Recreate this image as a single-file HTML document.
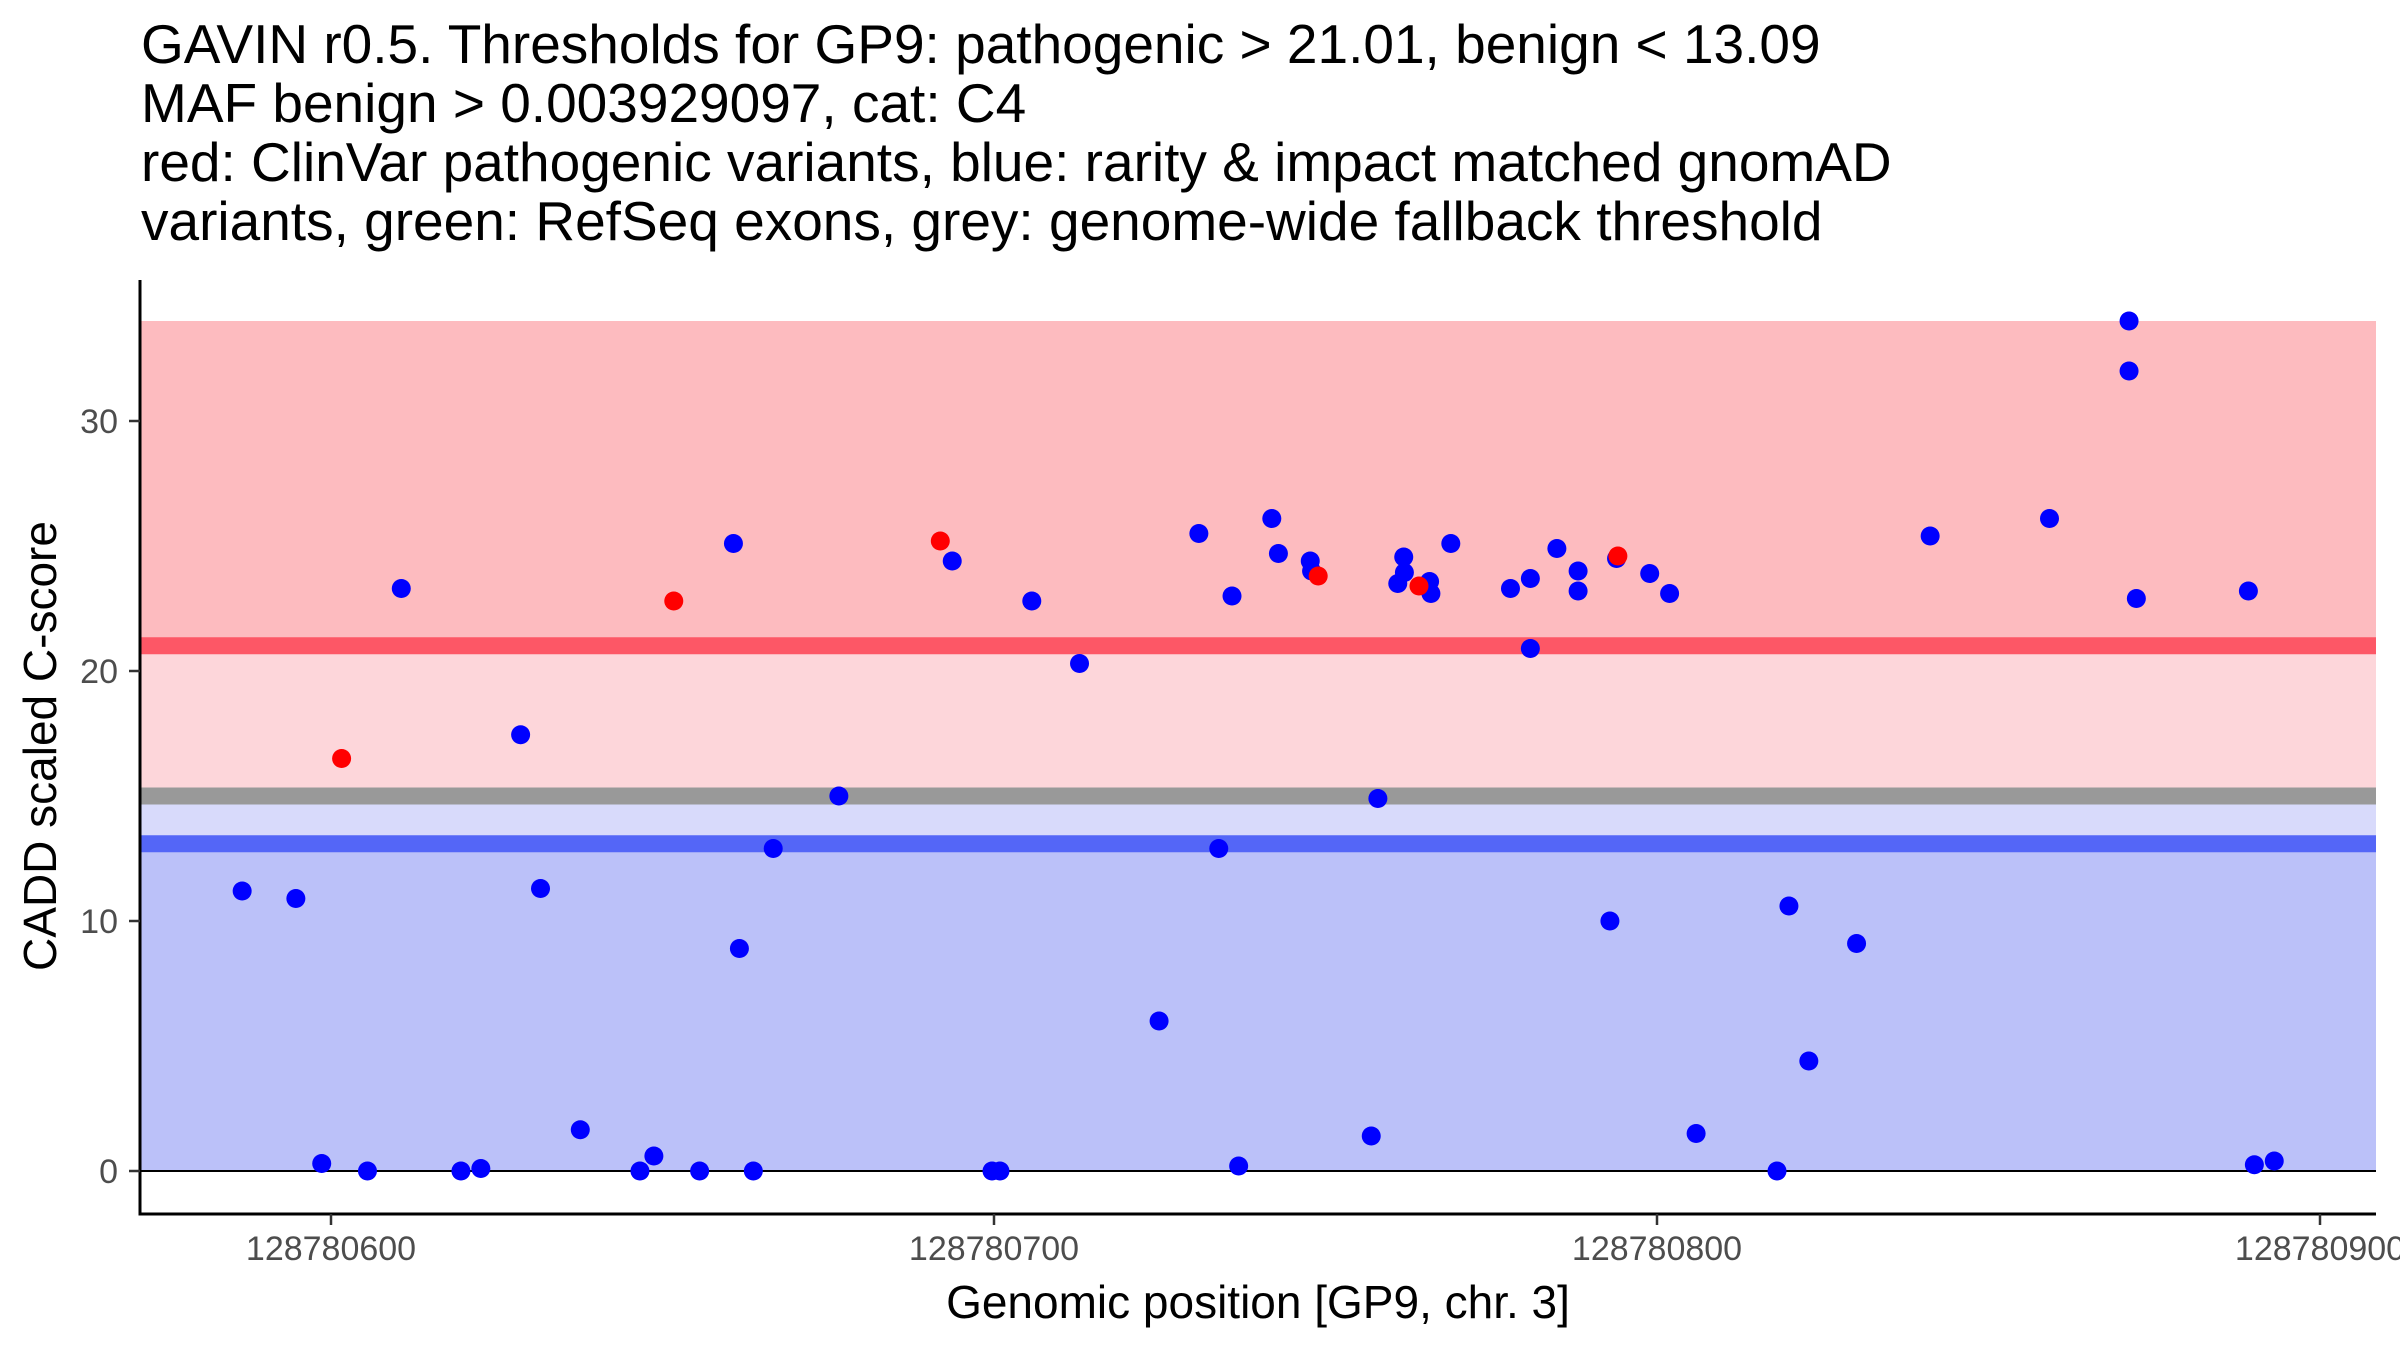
<!DOCTYPE html>
<html><head><meta charset="utf-8"><style>
body{margin:0;background:#fff}
svg{display:block;font-family:"Liberation Sans",Arial,sans-serif}
</style></head><body>
<svg id="chart" width="2400" height="1350" viewBox="0 0 2400 1350" xmlns="http://www.w3.org/2000/svg">
<g font-size="55" fill="#000">
<text x="141" y="63">GAVIN r0.5. Thresholds for GP9: pathogenic &gt; 21.01, benign &lt; 13.09</text>
<text x="141" y="122">MAF benign &gt; 0.003929097, cat: C4</text>
<text x="141" y="181">red: ClinVar pathogenic variants, blue: rarity &amp; impact matched gnomAD</text>
<text x="141" y="240">variants, green: RefSeq exons, grey: genome-wide fallback threshold</text>
</g>
<g id="bands"></g>
<g id="points"></g>
<g id="axes"></g>
<text x="1258" y="1318" font-size="46" text-anchor="middle">Genomic position [GP9, chr. 3]</text>
<text transform="translate(56,746) rotate(-90)" font-size="46" text-anchor="middle">CADD scaled C-score</text>
</svg>
<script>
const pathogenicThreshold = 21.01;
const benignThreshold = 13.09;
const fallbackThreshold = 15;
const bandTop = 34;
const xTicks = [128780600, 128780700, 128780800, 128780900];
const yTicks = [0, 10, 20, 30];
const bluePos = [586.6,594.7,598.6,605.5,610.6,619.6,622.6,628.6,631.6,637.6,646.6,648.7,655.6,660.7,661.6,663.7,666.7,676.6,693.7,699.7,700.9,705.7,712.9,724.9,730.9,733.9,735.9,736.9,741.9,742.9,747.7,747.9,756.9,757.9,760.9,761.8,761.9,765.7,765.9,768.9,777.9,780.9,780.9,784.9,788.1,788.1,792.9,793.9,798.9,801.9,805.9,818.1,819.9,822.9,830.1,841.2,859.2,871.2,871.2,872.3,889.2,890.1,893.1];
const blueVal = [11.2,10.9,0.3,0,23.3,0,0.1,17.45,11.3,1.65,0,0.6,0,25.1,8.9,0,12.9,15.0,24.4,0,0,22.8,20.3,6.0,25.5,12.9,23.0,0.2,26.1,24.7,24.4,24.0,1.4,14.9,23.5,24.56,23.94,23.58,23.1,25.1,23.3,23.7,20.9,24.9,24.0,23.2,10.0,24.5,23.9,23.1,1.5,0.0,10.6,4.4,9.1,25.4,26.1,34.0,32.0,22.9,23.2,0.25,0.4];
const redPos = [601.6,651.7,691.9,748.9,764.1,794.1];
const redVal = [16.5,22.8,25.2,23.8,23.4,24.6];
const POS0 = 128780000;

const X0=140, X1=2376, Y0=280, YB=1214;
function xs(p){return 331+(p-600)*6.63;}
function xsAbs(p){return xs(p-POS0);}
function ys(v){return 1171-v*25.0;}
const NS='http://www.w3.org/2000/svg';
function mk(tag,attrs,parent){const e=document.createElementNS(NS,tag);for(const k in attrs)e.setAttribute(k,attrs[k]);parent.appendChild(e);return e;}
const bands=document.getElementById('bands');
function band(a,b,fill,name){
  const r=mk('rect',{x:X0+1,y:ys(b),width:X1-X0-1,height:ys(a)-ys(b),fill:fill},bands);
  
  
}
band(pathogenicThreshold,bandTop,'#fdbbbf','pathogenic-band');
band(fallbackThreshold,pathogenicThreshold,'#fdd6da','intermediate-band');
band(benignThreshold,fallbackThreshold,'#d8dafb','lower-intermediate-band');
band(0,benignThreshold,'#bbc1f9','benign-band');
function hline(v,color,w,name){
  const l=mk('line',{x1:X0+1,x2:X1,y1:ys(v),y2:ys(v),stroke:color,'stroke-width':w},bands);
  
  
}
hline(pathogenicThreshold,'#fd5766',17,'pathogenic-threshold-line');
hline(fallbackThreshold,'#999999',17,'fallback-threshold-line');
hline(benignThreshold,'#5466f7',17,'benign-threshold-line');
hline(0,'#000',2,'zero-line');

const pts=document.getElementById('points');
for(let i=0;i<bluePos.length;i++){
  const c=mk('circle',{cx:xs(bluePos[i]),cy:ys(blueVal[i]),r:9.5,fill:'#0000ff'},pts);
  
  
}
for(let i=0;i<redPos.length;i++){
  const c=mk('circle',{cx:xs(redPos[i]),cy:ys(redVal[i]),r:9.5,fill:'#ff0000'},pts);
  
  
}

const ax=document.getElementById('axes');
const ya=mk('line',{x1:X0,x2:X0,y1:Y0,y2:YB+1.5,stroke:'#000','stroke-width':3},ax);


const xa=mk('line',{x1:X0-1.5,x2:X1,y1:YB,y2:YB,stroke:'#000','stroke-width':3},ax);


yTicks.forEach(v=>{
  const t=mk('line',{x1:X0-11,x2:X0,y1:ys(v),y2:ys(v),stroke:'#333','stroke-width':2.5},ax);
  
  
  const tx=mk('text',{x:X0-22,y:ys(v)+12,'font-size':34,fill:'#4d4d4d','text-anchor':'end'},ax);
  tx.textContent=String(v);
  
  
});
xTicks.forEach(p=>{
  const x=xsAbs(p);
  const t=mk('line',{x1:x,x2:x,y1:YB,y2:YB+11,stroke:'#333','stroke-width':2.5},ax);
  
  
  const tx=mk('text',{x:x,y:YB+46,'font-size':34,fill:'#4d4d4d','text-anchor':'middle'},ax);
  tx.textContent=String(p);
  
  
});
</script>
</body></html>
